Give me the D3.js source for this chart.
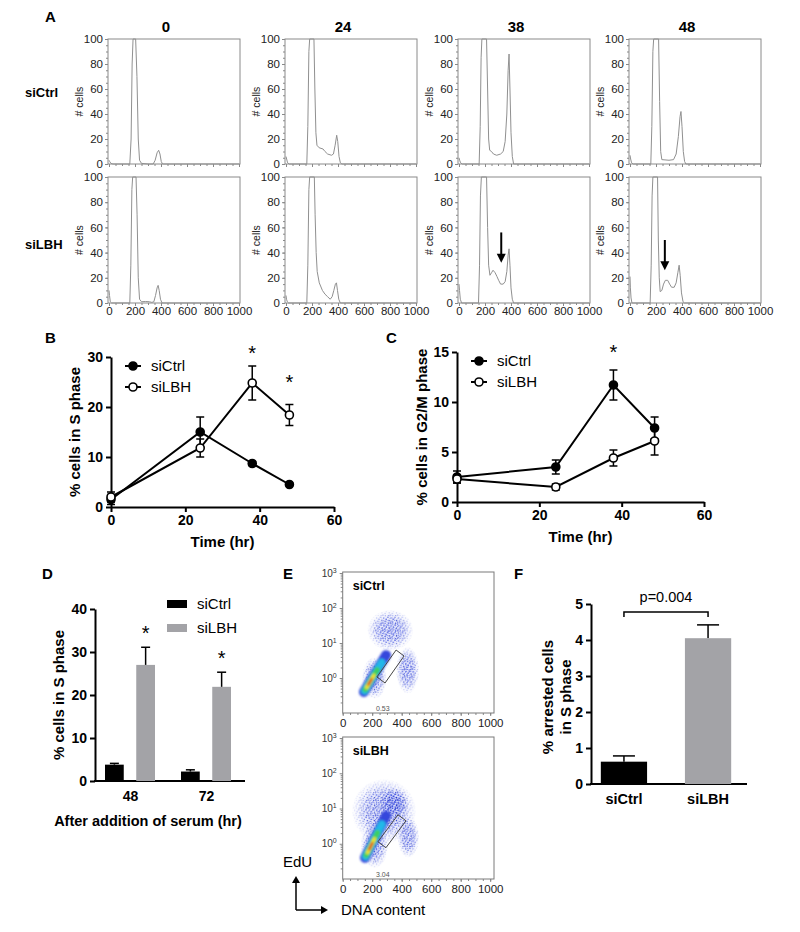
<!DOCTYPE html>
<html><head><meta charset="utf-8">
<script src="https://cdn.jsdelivr.net/npm/d3@7"></script>
<style>body{margin:0;background:#fff}svg{display:block}</style>
</head><body><svg id="c" width="800" height="932"></svg>
<script>
// ---------------- DATA ----------------
// Panel A: DNA content histograms [channel, # cells]
const histTimes = ["0","24","38","48"];
const histRows = ["siCtrl","siLBH"];
const histCtrl0 = [[0,3],[5,2],[15,0.5],[30,0],[160,0],[170,20],[178,80],[185,100],[205,100],[215,70],[225,20],[235,3],[250,0.5],[300,0],[340,0],[355,3],[370,9],[382,11],[392,8],[402,2],[412,0],[1000,0]];
const histCtrl24 = [[0,6],[5,4],[12,1],[25,0],[160,0],[168,30],[176,90],[182,100],[215,100],[222,60],[230,25],[238,15],[255,13],[285,12],[300,10],[320,8],[350,7],[365,8],[378,15],[390,23],[398,18],[408,6],[418,1],[430,0],[1000,0]];
const histCtrl38 = [[0,5],[5,3],[12,1],[25,0],[155,0],[163,30],[170,85],[176,100],[212,100],[220,60],[228,20],[236,11],[250,10],[265,8],[290,7],[320,8],[340,10],[355,18],[368,40],[378,75],[385,88],[392,60],[400,25],[410,6],[420,0],[1000,0]];
const histCtrl48 = [[0,7],[5,4],[12,1],[25,0],[160,0],[168,30],[176,90],[182,100],[220,100],[228,50],[236,10],[245,3.5],[300,3],[335,3.5],[355,8],[372,22],[385,38],[392,42],[400,30],[410,10],[420,2],[430,0],[1000,0]];
const histLBH0 = [[0,10],[4,6],[10,1],[20,0],[160,0],[168,30],[176,90],[182,100],[208,100],[216,70],[225,20],[235,3],[250,1],[280,1.2],[310,1],[330,0.5],[345,1],[358,6],[370,12],[378,14],[386,10],[396,3],[408,0],[1000,0]];
const histLBH24 = [[0,6],[4,3],[10,1],[20,0],[160,0],[168,30],[176,90],[182,100],[218,100],[224,70],[232,40],[240,25],[256,16],[280,10],[300,7],[320,5],[340,3],[355,5],[368,10],[380,15],[388,16],[396,10],[406,3],[418,0],[1000,0]];
const histLBH38 = [[0,15],[4,10],[10,3],[20,0],[150,0],[158,30],[165,85],[172,100],[212,100],[220,60],[228,30],[238,22],[250,24],[262,26],[278,24],[292,21],[305,18],[320,15],[340,15],[355,17],[368,25],[378,38],[385,43],[392,30],[400,12],[410,3],[420,0],[1000,0]];
const histLBH48 = [[0,21],[3,12],[8,4],[15,0],[155,0],[163,30],[170,85],[176,100],[212,100],[218,50],[225,20],[232,9],[245,10],[258,15],[272,18],[290,18],[305,15],[320,12.5],[340,12.5],[355,16],[368,24],[378,30],[386,22],[396,8],[408,1],[418,0],[1000,0]];
const arrowCols = [2,3];
const arrowX = [325,268];
const arrowTop = [56,50];
const arrowTip = [32,26];

// Panels B, C
const timeHr = [0,24,38,48];
const sPhaseCtrl = [1.5,15.0,8.7,4.5];
const sPhaseCtrlErr = [1.0,3.0,0.4,0.2];
const sPhaseLBH = [2.0,11.8,24.8,18.4];
const sPhaseLBHErr = [1.0,1.8,3.4,2.1];
const sPhaseStarT = [38,48];
const sPhaseStarV = [31.2,25.4];
const g2mCtrl = [2.5,3.5,11.7,7.4];
const g2mCtrlErr = [0.6,0.7,1.5,1.1];
const g2mLBH = [2.3,1.5,4.4,6.1];
const g2mLBHErr = [0.4,0.3,0.8,1.4];
const g2mStarT = [38];
const g2mStarV = [15.2];

// Panel D
const serumGroups = ["48","72"];
const serumSeries = ["siCtrl","siLBH"];
const serumCtrl = [3.8,2.2];
const serumCtrlErr = [0.3,0.4];
const serumLBH = [27.0,21.9];
const serumLBHErr = [4.1,3.4];
const serumStarV = [35,29];

// Panel E: flow plots (DNA content, EdU)
const flowNames = ["siCtrl","siLBH"];
const flowPct = ["0.53","3.04"];
const flowBands = [[[144,0.40],[294,4.5]],[[151,0.40],[294,6.2]]];
const flowClouds = [
  [[165,480,6,90],[360,520,0.35,8],[130,300,0.25,4]],
  [[60,500,1.0,70],[370,520,0.4,6],[120,310,0.2,4],[250,450,5,40]]
];
const flowGates = [
  [[232,1.07],[287,0.72],[416,4.25],[362,6.3]],
  [[239,1.14],[293,0.77],[429,4.48],[375,6.63]]
];

// Panel F
const arrestCats = ["siCtrl","siLBH"];
const arrestVals = [0.62,4.05];
const arrestErr = [0.16,0.37];
const arrestP = "p=0.004";

// ---------------- DRAW ----------------
const FONT = '"Liberation Sans", Arial, Helvetica, sans-serif';
const svg = d3.select("#c").attr("font-family", FONT);
svg.append("rect").attr("width",800).attr("height",932).attr("fill","#fff");

function text(x,y,s,o={}){
  const t = svg.append("text").attr("x",x).attr("y",y).text(s)
    .attr("font-size",o.size||14).attr("font-weight",o.bold?"bold":"normal")
    .attr("fill",o.fill||"#000").attr("text-anchor",o.anchor||"start");
  if(o.rotate) t.attr("transform",`rotate(${o.rotate},${x},${y})`);
  return t;
}
function styleAxis(g, size, bold, color, sw){
  g.attr("font-family",FONT);
  g.selectAll("text").attr("font-size",size).attr("font-weight",bold?"bold":"normal").attr("fill",color);
  g.selectAll("line,path").attr("stroke",color).attr("stroke-width",sw);
}

// ===== Panel A =====
text(45,22,"A",{size:15,bold:true});
const histSets = [[histCtrl0,histCtrl24,histCtrl38,histCtrl48],[histLBH0,histLBH24,histLBH38,histLBH48]];
const aCols = [108,285,458,629], aW = 132, aRows = [[39,164],[177,303]];
const aScales = [];
histRows.forEach((rowName,r)=>{
  aScales.push([]);
  const [top,bot] = aRows[r];
  text(25, r===0?97:249, rowName, {size:13,bold:true});
  histTimes.forEach((t,c)=>{
    const x0 = aCols[c], x1 = x0+aW;
    const x = d3.scaleLinear().domain([0,1000]).range([x0+1,x1-1]);
    const y = d3.scaleLinear().domain([0,100]).range([bot,top]);
    aScales[r].push({x,y});
    if(r===0) text((x0+x1)/2-8, 32, t, {size:15,bold:true,anchor:"middle"});
    const gmy = svg.append("g").attr("transform",`translate(${x0},0)`)
      .call(d3.axisLeft(y).tickValues(d3.range(0,101,5)).tickSize(2).tickFormat(""));
    gmy.select(".domain").remove(); styleAxis(gmy,11,false,"#888",1);
    const gmx = svg.append("g").attr("transform",`translate(0,${bot})`)
      .call(d3.axisBottom(x).tickValues(d3.range(0,1001,50)).tickSize(2).tickFormat(""));
    gmx.select(".domain").remove(); styleAxis(gmx,11,false,"#888",1);
    const gy = svg.append("g").attr("transform",`translate(${x0},0)`)
      .call(d3.axisLeft(y).tickValues(d3.range(0,101,20)).tickSize(3).tickPadding(2));
    gy.select(".domain").remove(); styleAxis(gy,11.5,false,"#888",1);
    gy.selectAll("text").attr("fill","#222");
    const gx = svg.append("g").attr("transform",`translate(0,${bot})`)
      .call(d3.axisBottom(x).tickValues(d3.range(0,1001,200)).tickSize(3).tickPadding(1)
        .tickFormat(r===1?d3.format("d"):""));
    gx.select(".domain").remove(); styleAxis(gx,11.5,false,"#888",1);
    gx.selectAll("text").attr("fill","#222");
    svg.append("rect").attr("x",x0).attr("y",top).attr("width",aW).attr("height",bot-top)
      .attr("fill","none").attr("stroke","#8a8a8a").attr("stroke-width",1);
    text(x0-25,(top+bot)/2,"# cells",{size:10.5,anchor:"middle",rotate:-90,fill:"#222"});
    const line = d3.line().x(d=>x(d[0])).y(d=>y(Math.min(d[1],100)));
    svg.append("path").datum(histSets[r][c]).attr("d",line)
      .attr("fill","none").attr("stroke","#909090").attr("stroke-width",1);
  });
});
arrowCols.forEach((c,i)=>{
  const {x,y} = aScales[1][c];
  const ax = x(arrowX[i]), yt = y(arrowTop[i]), yp = y(arrowTip[i]);
  svg.append("line").attr("x1",ax).attr("x2",ax).attr("y1",yt).attr("y2",yp-7)
    .attr("stroke","#000").attr("stroke-width",2);
  svg.append("path").attr("d",`M${ax-4.5},${yp-9}L${ax+4.5},${yp-9}L${ax},${yp}Z`).attr("fill","#000");
});

// ===== Panels B & C =====
function linePanel(o){
  const x = d3.scaleLinear().domain([0,60]).range(o.xr);
  const y = d3.scaleLinear().domain(o.yd).range(o.yr);
  const gx = svg.append("g").attr("transform",`translate(0,${o.yr[0]})`)
    .call(d3.axisBottom(x).tickValues([0,20,40,60]).tickSize(5).tickSizeOuter(0).tickPadding(3));
  styleAxis(gx,14,true,"#000",2);
  const gy = svg.append("g").attr("transform",`translate(${o.xr[0]},0)`)
    .call(d3.axisLeft(y).tickValues(o.yt).tickSize(5).tickSizeOuter(0).tickPadding(3));
  styleAxis(gy,14,true,"#000",2);
  text((o.xr[0]+o.xr[1])/2, o.yr[0]+40, "Time (hr)", {size:15,bold:true,anchor:"middle"});
  text(o.ylx, (o.yr[0]+o.yr[1])/2, o.ylabel, {size:15,bold:true,anchor:"middle",rotate:-90});
  const line = d3.line().x((d,i)=>x(timeHr[i])).y(d=>y(d));
  o.series.forEach(s=>{
    svg.append("path").datum(s.v).attr("d",line).attr("fill","none").attr("stroke","#000").attr("stroke-width",2);
  });
  o.series.forEach(s=>{
    s.v.forEach((v,i)=>{
      const cx = x(timeHr[i]), lo = y(v-s.e[i]), hi = y(v+s.e[i]);
      svg.append("line").attr("x1",cx).attr("x2",cx).attr("y1",lo).attr("y2",hi).attr("stroke","#000").attr("stroke-width",1.5);
      [lo,hi].forEach(yy=>svg.append("line").attr("x1",cx-4).attr("x2",cx+4).attr("y1",yy).attr("y2",yy).attr("stroke","#000").attr("stroke-width",1.5));
    });
    s.v.forEach((v,i)=>{
      svg.append("circle").attr("cx",x(timeHr[i])).attr("cy",y(v)).attr("r",4)
        .attr("fill",s.filled?"#000":"#fff").attr("stroke","#000").attr("stroke-width",1.6);
    });
  });
  o.starT.forEach((t,i)=>text(x(t), y(o.starV[i])+9, "*", {size:20,anchor:"middle"}));
  o.series.forEach((s,i)=>{
    const ly = o.leg[1]+i*21;
    svg.append("line").attr("x1",o.leg[0]).attr("x2",o.leg[0]+16).attr("y1",ly).attr("y2",ly).attr("stroke","#000").attr("stroke-width",2);
    svg.append("circle").attr("cx",o.leg[0]+8).attr("cy",ly).attr("r",4).attr("fill",s.filled?"#000":"#fff").attr("stroke","#000").attr("stroke-width",1.6);
    text(o.leg[0]+26, ly+5, s.name, {size:15});
  });
}
text(45,343,"B",{size:15,bold:true});
linePanel({xr:[111,334], yd:[0,30], yr:[507,357], yt:[0,10,20,30], ylabel:"% cells in S phase", ylx:80,
  series:[{name:"siCtrl",v:sPhaseCtrl,e:sPhaseCtrlErr,filled:true},{name:"siLBH",v:sPhaseLBH,e:sPhaseLBHErr,filled:false}],
  starT:sPhaseStarT, starV:sPhaseStarV, leg:[125,366]});
text(386,343,"C",{size:15,bold:true});
linePanel({xr:[457,704], yd:[0,15], yr:[502,352], yt:[0,5,10,15], ylabel:"% cells in G2/M phase", ylx:427,
  series:[{name:"siCtrl",v:g2mCtrl,e:g2mCtrlErr,filled:true},{name:"siLBH",v:g2mLBH,e:g2mLBHErr,filled:false}],
  starT:g2mStarT, starV:g2mStarV, leg:[471,361]});

// ===== Panel D =====
text(42,579,"D",{size:15,bold:true});
{
  const y = d3.scaleLinear().domain([0,40]).range([781,609]);
  const xg = d3.scalePoint().domain(serumGroups).range([92,244]).padding(0.5);
  const xs = d3.scaleBand().domain(serumSeries).range([-25,25]).paddingInner(0.4);
  const gy = svg.append("g").attr("transform","translate(95,0)")
    .call(d3.axisLeft(y).tickValues([0,10,20,30,40]).tickSize(5).tickSizeOuter(0).tickPadding(3));
  styleAxis(gy,14,true,"#000",2);
  const gx = svg.append("g").attr("transform","translate(0,781)")
    .call(d3.axisBottom(xg).tickSize(0).tickPadding(10));
  gx.select(".domain").remove(); styleAxis(gx,14,true,"#000",2);
  svg.append("line").attr("x1",94).attr("x2",245).attr("y1",781).attr("y2",781).attr("stroke","#000").attr("stroke-width",2);
  const series = [{n:"siCtrl",v:serumCtrl,e:serumCtrlErr,c:"#000"},{n:"siLBH",v:serumLBH,e:serumLBHErr,c:"#a3a3a7"}];
  series.forEach(s=>{
    serumGroups.forEach((g,i)=>{
      const bx = xg(g)+xs(s.n), bw = xs.bandwidth(), cx = bx+bw/2;
      svg.append("rect").attr("x",bx).attr("y",y(s.v[i])).attr("width",bw).attr("height",y(0)-y(s.v[i])).attr("fill",s.c);
      svg.append("line").attr("x1",cx).attr("x2",cx).attr("y1",y(s.v[i])).attr("y2",y(s.v[i]+s.e[i])).attr("stroke","#000").attr("stroke-width",1.5);
      svg.append("line").attr("x1",cx-4.5).attr("x2",cx+4.5).attr("y1",y(s.v[i]+s.e[i])).attr("y2",y(s.v[i]+s.e[i])).attr("stroke","#000").attr("stroke-width",1.5);
      if(s.n==="siLBH") text(cx, y(serumStarV[i])+9, "*", {size:20,anchor:"middle"});
    });
  });
  series.forEach((s,i)=>{
    const ly = 604+i*24;
    svg.append("rect").attr("x",167).attr("y",ly-4).attr("width",20).attr("height",8).attr("fill",s.c);
    text(197, ly+5, s.n, {size:15});
  });
  text(148,826,"After addition of serum (hr)",{size:14.5,bold:true,anchor:"middle"});
  text(64,695,"% cells in S phase",{size:15,bold:true,anchor:"middle",rotate:-90});
}

// ===== Panel E =====
text(283,579,"E",{size:15,bold:true});
const defs = svg.append("defs");
const speckDots = [[0.3,0.6,"#1d30d8"],[3.6,1.3,"#2a3fe2"],[1.7,3.9,"#1526c4"],[4.9,4.6,"#3448de"],[2.8,6.2,"#1a2cc8"],[6.0,2.6,"#2c40e0"],[5.2,6.9,"#4a5ce6"],[0.9,6.8,"#2236d4"]];
const pat = defs.append("pattern").attr("id","speck").attr("width",7.3).attr("height",7.7).attr("patternUnits","userSpaceOnUse");
speckDots.forEach(d=>pat.append("rect").attr("x",d[0]).attr("y",d[1]).attr("width",1.2).attr("height",1.2).attr("fill",d[2]));
const pat2 = defs.append("pattern").attr("id","speck2").attr("width",5.1).attr("height",4.7).attr("patternUnits","userSpaceOnUse").attr("patternTransform","rotate(23)");
speckDots.slice(0,4).forEach(d=>pat2.append("rect").attr("x",d[0]*0.7).attr("y",d[1]*0.6).attr("width",1).attr("height",1).attr("fill",d[2]));
const rg = defs.append("radialGradient").attr("id","fadeG");
rg.append("stop").attr("offset","0%").attr("stop-color","#fff").attr("stop-opacity",1);
rg.append("stop").attr("offset","55%").attr("stop-color","#fff").attr("stop-opacity",0.8);
rg.append("stop").attr("offset","100%").attr("stop-color","#fff").attr("stop-opacity",0);
const mask = defs.append("mask").attr("id","fadeM").attr("maskContentUnits","objectBoundingBox");
mask.append("rect").attr("width",1).attr("height",1).attr("fill","url(#fadeG)");
const blur = defs.append("filter").attr("id","blr").attr("x","-30%").attr("y","-30%").attr("width","160%").attr("height","160%");
blur.append("feGaussianBlur").attr("stdDeviation",1.1);
const bandLayers = [[0,1,10,"#3446dc"],[0.03,0.8,7.5,"#22b8e8"],[0.06,0.6,5.5,"#3ccf60"],[0.12,0.45,3.5,"#efe12c"],[0.2,0.35,2.2,"#e63a1e"]];
const flowBoxes = [[342.7,494,572,713],[342.7,494,737,879]];
flowNames.forEach((nm,k)=>{
  const [fx0,fx1,fy0,fy1] = flowBoxes[k];
  const x = d3.scaleLinear().domain([0,1000]).range([fx0,fx0+147.5]);
  const y = d3.scaleLog().domain([0.1,1000]).range([fy1,fy0+1]);
  flowClouds[k].forEach(cl=>{
    const cx=(x(cl[0])+x(cl[1]))/2, rx=(x(cl[1])-x(cl[0]))/2, cy=(y(cl[2])+y(cl[3]))/2, ry=(y(cl[2])-y(cl[3]))/2;
    svg.append("ellipse").attr("cx",cx).attr("cy",cy).attr("rx",rx).attr("ry",ry).attr("fill","#3c50e0").attr("opacity",0.12).attr("mask","url(#fadeM)");
    svg.append("ellipse").attr("cx",cx).attr("cy",cy).attr("rx",rx).attr("ry",ry).attr("fill","url(#speck)").attr("mask","url(#fadeM)");
    svg.append("ellipse").attr("cx",cx).attr("cy",cy).attr("rx",rx*0.8).attr("ry",ry*0.8).attr("fill","url(#speck2)").attr("opacity",0.8).attr("mask","url(#fadeM)");
  });
  const b = flowBands[k];
  const p0 = [x(b[0][0]),y(b[0][1])], p1 = [x(b[1][0]),y(b[1][1])];
  const lerp = t=>[p0[0]+(p1[0]-p0[0])*t, p0[1]+(p1[1]-p0[1])*t];
  const gB = svg.append("g").attr("filter","url(#blr)");
  bandLayers.forEach(L=>{
    const a = lerp(L[0]), c = lerp(L[1]);
    gB.append("line").attr("x1",a[0]).attr("y1",a[1]).attr("x2",c[0]).attr("y2",c[1])
      .attr("stroke",L[3]).attr("stroke-width",L[2]).attr("stroke-linecap","round");
  });
  svg.append("path").attr("d","M"+flowGates[k].map(p=>[x(p[0]),y(p[1])].join(",")).join("L")+"Z")
    .attr("fill","none").attr("stroke","#444").attr("stroke-width",1);
  const gmy = svg.append("g").attr("transform",`translate(${fx0},0)`)
    .call(d3.axisLeft(y).tickValues(d3.range(-1,3).flatMap(e=>d3.range(2,10).map(m=>m*Math.pow(10,e)))).tickSize(2).tickFormat(""));
  gmy.select(".domain").remove(); styleAxis(gmy,9,false,"#888",1);
  const gy = svg.append("g").attr("transform",`translate(${fx0},0)`)
    .call(d3.axisLeft(y).tickValues([1,10,100,1000]).tickSize(3).tickPadding(3).tickFormat(""));
  gy.select(".domain").remove(); styleAxis(gy,9,false,"#888",1);
  [0,1,2,3].forEach(e=>{
    const t = svg.append("text").attr("x",fx0-6).attr("y",y(Math.pow(10,e))+3.5).attr("text-anchor","end")
      .attr("font-size",10).attr("fill","#333");
    t.append("tspan").text("10");
    t.append("tspan").attr("dy",-4).attr("font-size",7).text(String(e));
  });
  const gmx = svg.append("g").attr("transform",`translate(0,${fy1})`)
    .call(d3.axisBottom(x).tickValues(d3.range(0,1001,50)).tickSize(2).tickFormat(""));
  gmx.select(".domain").remove(); styleAxis(gmx,9,false,"#888",1);
  const gx = svg.append("g").attr("transform",`translate(0,${fy1})`)
    .call(d3.axisBottom(x).tickValues(d3.range(0,1001,200)).tickSize(3).tickPadding(3).tickFormat(d3.format("d")));
  gx.select(".domain").remove(); styleAxis(gx,11.5,false,"#888",1);
  gx.selectAll("text").attr("fill","#222");
  svg.append("rect").attr("x",fx0).attr("y",fy0).attr("width",fx1-fx0).attr("height",fy1-fy0)
    .attr("fill","none").attr("stroke","#7a7a7a").attr("stroke-width",1);
  text(fx0+10, fy0+18, nm, {size:12.5,bold:true});
  text(x(272), fy1-2.5, flowPct[k], {size:7,anchor:"middle",fill:"#555"});
});
text(283,867,"EdU",{size:15});
svg.append("line").attr("x1",296).attr("x2",296).attr("y1",910).attr("y2",882).attr("stroke","#000").attr("stroke-width",1.5);
svg.append("path").attr("d","M292,883L300,883L296,876Z").attr("fill","#000");
svg.append("line").attr("x1",296).attr("x2",322).attr("y1",910).attr("y2",910).attr("stroke","#000").attr("stroke-width",1.5);
svg.append("path").attr("d","M321,906L321,914L328,910Z").attr("fill","#000");
text(341,915,"DNA content",{size:15});

// ===== Panel F =====
text(514,579,"F",{size:15,bold:true});
{
  const y = d3.scaleLinear().domain([0,5]).range([784,604]);
  const x = d3.scaleBand().domain(arrestCats).range([584,748]).paddingInner(0.45).paddingOuter(0.2);
  const gy = svg.append("g").attr("transform","translate(591,0)")
    .call(d3.axisLeft(y).tickValues([0,1,2,3,4,5]).tickSize(5).tickSizeOuter(0).tickPadding(3).tickFormat(d3.format("d")));
  styleAxis(gy,14,true,"#000",2);
  const gx = svg.append("g").attr("transform","translate(0,784)")
    .call(d3.axisBottom(x).tickSize(0).tickPadding(10));
  gx.select(".domain").remove(); styleAxis(gx,14.5,true,"#000",2);
  svg.append("line").attr("x1",590).attr("x2",747).attr("y1",784).attr("y2",784).attr("stroke","#000").attr("stroke-width",2);
  const cols = ["#000","#a3a3a7"];
  arrestCats.forEach((c,i)=>{
    const bx = x(c), bw = x.bandwidth(), cx = bx+bw/2;
    svg.append("line").attr("x1",cx).attr("x2",cx).attr("y1",y(arrestVals[i])).attr("y2",y(arrestVals[i]+arrestErr[i])).attr("stroke","#000").attr("stroke-width",1.5);
    svg.append("line").attr("x1",cx-11).attr("x2",cx+11).attr("y1",y(arrestVals[i]+arrestErr[i])).attr("y2",y(arrestVals[i]+arrestErr[i])).attr("stroke","#000").attr("stroke-width",1.5);
    svg.append("rect").attr("x",bx).attr("y",y(arrestVals[i])).attr("width",bw).attr("height",y(0)-y(arrestVals[i])).attr("fill",cols[i]);
  });
  const bx0 = x(arrestCats[0])+x.bandwidth()/2, bx1 = x(arrestCats[1])+x.bandwidth()/2;
  svg.append("path").attr("d",`M${bx0},617V612H${bx1}V617`).attr("fill","none").attr("stroke","#000").attr("stroke-width",1.5);
  text((bx0+bx1)/2, 602, arrestP, {size:14.5,anchor:"middle"});
  text(553,697,"% arrested cells",{size:15,bold:true,anchor:"middle",rotate:-90});
  text(571,697,"in S phase",{size:15,bold:true,anchor:"middle",rotate:-90});
}
</script></body></html>
